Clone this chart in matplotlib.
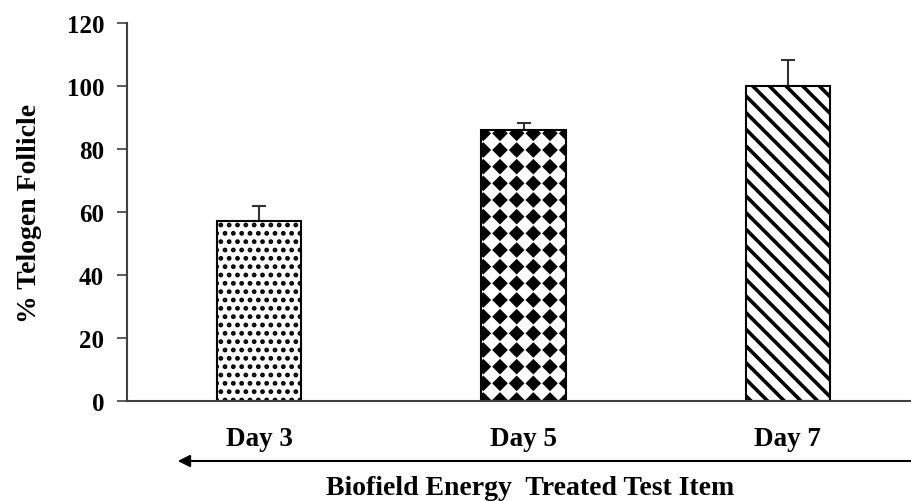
import numpy as np
import matplotlib
matplotlib.use("Agg")
import matplotlib.pyplot as plt
import matplotlib.hatch as mhatch
from matplotlib.path import Path

# Data
days = ["Day 3", "Day 5", "Day 7"]
telogen = [57, 86, 100]
telogen_err = [5, 2.3, 8.3]
y_ticks = [0, 20, 40, 60, 80, 100, 120]


# Diamond checker pattern, used in place of the '*' hatch
class DiamondChecker(mhatch.HatchPatternBase):
    def __init__(self, hatch, density):
        self.num = hatch.count('*') * density
        self.num_vertices = 5 * (self.num + 1) ** 2 if self.num else 0

    def set_vertices_and_codes(self, vertices, codes):
        n = self.num
        h = 0.5 / n * 0.82
        k = 0
        for i in range(n + 1):
            for j in range(n + 1):
                cx, cy = i / n, j / n
                vertices[k:k + 5] = [(cx - h, cy), (cx, cy - h), (cx + h, cy),
                                     (cx, cy + h), (cx - h, cy)]
                codes[k:k + 5] = [Path.MOVETO, Path.LINETO, Path.LINETO,
                                  Path.LINETO, Path.CLOSEPOLY]
                k += 5


mhatch._hatch_types = [t for t in mhatch._hatch_types if t is not mhatch.Stars] + [DiamondChecker]

plt.rcParams['font.family'] = ['Liberation Serif', 'DejaVu Serif']
plt.rcParams['font.weight'] = 'bold'

fig = plt.figure(figsize=(9.11, 5.02), dpi=100)
ax = fig.add_axes([127 / 911, 100 / 502, 793 / 911, 378 / 502])

x = np.arange(len(days))
hatches = ['..', '*', '\\\\']
hatch_lw = [2.2, 1.0, 2.6]
bars = ax.bar(x, telogen, width=0.318, color='white', edgecolor='black',
              linewidth=1.5, zorder=2)
for b, h, lw in zip(bars, hatches, hatch_lw):
    b.set_hatch(h)
    if hasattr(b, 'set_hatch_linewidth'):
        b.set_hatch_linewidth(lw)

ax.errorbar(x, telogen, yerr=[np.zeros(len(telogen)), telogen_err], fmt='none',
            ecolor='#333333', elinewidth=1.5, capsize=4.8, capthick=1.5, zorder=1)

ax.set_xlim(-0.5, 2.5)
ax.set_ylim(0, 120)
ax.set_yticks(y_ticks)
ax.set_xticks(x)
ax.set_xticklabels(days)
ax.tick_params(axis='y', direction='out', length=7.5, width=1.2, color='#404040',
               labelsize=18, pad=9)
ax.tick_params(axis='x', length=0, labelsize=19.5, pad=18)
for lab in ax.get_yticklabels() + ax.get_xticklabels():
    lab.set_fontweight('bold')

ax.spines['top'].set_visible(False)
ax.spines['right'].set_visible(False)
for s in ['left', 'bottom']:
    ax.spines[s].set_color('#404040')
    ax.spines[s].set_linewidth(1.5)

ax.set_ylabel('% Telogen Follicle', fontsize=20, fontweight='bold', labelpad=18)

# Double-headed arrow and group label below the axis
arrow_y = 1 - 462 / 502
fig.patches.append(matplotlib.patches.FancyArrowPatch(
    (175 / 911, arrow_y), (1.02, arrow_y), transform=fig.transFigure,
    arrowstyle='<|-|>', mutation_scale=18, color='black', linewidth=1.5))
fig.text(530 / 911, 1 - 489 / 502, 'Biofield Energy  Treated Test Item',
         ha='center', va='center', fontsize=20, fontweight='bold')

fig.savefig('out.png', dpi=100, facecolor='white')
